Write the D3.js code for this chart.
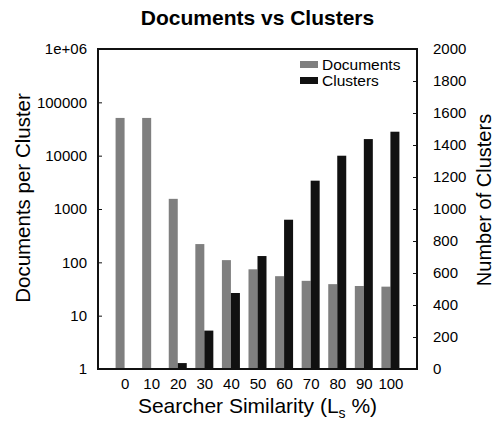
<!DOCTYPE html>
<meta charset="utf-8">
<style>
    body { margin: 0; background: #fff; }
    svg { display: block; background: #fff; font-family: "Liberation Sans", Arial, sans-serif; }
    .axis path, .axis line { stroke: #111; }
</style>
<body>
<svg width="496" height="422"></svg>
<script src="https://d3js.org/d3.v7.min.js"></script>
<script>
    // values
    var similarity = [0, 10, 20, 30, 40, 50, 60, 70, 80, 90, 100];
    var documents = [51000, 51000, 1550, 220, 110, 74, 55, 45, 39, 36, 35];
    var clusters = [0, 0, 37, 240, 475, 706, 933, 1177, 1333, 1437, 1483];
    var leftTicks = [1, 10, 100, 1000, 10000, 100000, 1000000];
    var rightTicks = [0, 200, 400, 600, 800, 1000, 1200, 1400, 1600, 1800, 2000];

    var svg = d3.select("svg");
    var margin = { top: 49, right: 79, bottom: 53, left: 98 },
        width = 496 - margin.left - margin.right,
        height = 422 - margin.top - margin.bottom;

    var x = d3.scaleLinear().domain([-10, 110]).range([0, width]),
        yL = d3.scaleLog().domain([1, 1e6]).range([height, 0]),
        yR = d3.scaleLinear().domain([0, 2000]).range([height, 0]);
    var barW = 9;

    var g = svg.append("g")
        .attr("transform", "translate(" + margin.left + "," + margin.top + ")");

    // documents bars (left, log axis)
    g.selectAll(".doc")
        .data(similarity)
        .enter().append("rect")
        .attr("class", "doc")
        .attr("x", function (d) { return x(d) - barW; })
        .attr("width", barW)
        .attr("y", function (d, i) { return yL(documents[i]); })
        .attr("height", function (d, i) { return height - yL(documents[i]); })
        .style("fill", "#7f7f7f");

    // clusters bars (right axis)
    g.selectAll(".clu")
        .data(similarity)
        .enter().append("rect")
        .attr("class", "clu")
        .attr("x", function (d) { return x(d); })
        .attr("width", barW)
        .attr("y", function (d, i) { return yR(clusters[i]); })
        .attr("height", function (d, i) { return height - yR(clusters[i]); })
        .style("fill", "#111");

    var fmtL = function (d) { return d === 1e6 ? "1e+06" : d3.format("d")(d); };

    var yAxisL = d3.axisLeft(yL).tickValues(leftTicks).tickFormat(fmtL).tickSizeInner(-4).tickSizeOuter(0).tickPadding(11);
    var gl = g.append("g").attr("class", "axis").call(yAxisL);
    gl.selectAll("text").style("font-size", "15px").style("fill", "#000");

    var yAxisR = d3.axisRight(yR).tickValues(rightTicks).tickFormat(d3.format("d")).tickSizeInner(-4).tickSizeOuter(0).tickPadding(16);
    var gr = g.append("g").attr("class", "axis")
        .attr("transform", "translate(" + width + ",0)")
        .call(yAxisR);
    gr.selectAll("text").style("font-size", "15px").style("fill", "#000").style("text-anchor", "start");

    var xAxis = d3.axisBottom(x).tickValues(similarity).tickSize(0).tickPadding(9);
    var gx = g.append("g").attr("class", "axis")
        .attr("transform", "translate(0," + height + ")")
        .call(xAxis);
    gx.selectAll("text").style("font-size", "15px").style("fill", "#000");

    // frame
    g.append("rect")
        .attr("width", width)
        .attr("height", height)
        .style("fill", "none")
        .style("stroke", "#111")
        .style("stroke-width", 2);

    // title
    svg.append("text")
        .attr("x", margin.left + width / 2)
        .attr("y", 25)
        .style("text-anchor", "middle")
        .style("font-weight", "bold")
        .style("font-size", "21px")
        .text("Documents vs Clusters");

    // axis titles
    svg.append("text")
        .attr("transform", "translate(30,198) rotate(-90)")
        .style("text-anchor", "middle")
        .style("font-size", "20.5px")
        .text("Documents per Cluster");

    svg.append("text")
        .attr("transform", "translate(491,200) rotate(-90)")
        .style("text-anchor", "middle")
        .style("font-size", "20px")
        .text("Number of Clusters");

    var xl = svg.append("text")
        .attr("x", margin.left + width / 2)
        .attr("y", 413)
        .style("text-anchor", "middle")
        .style("font-size", "21px");
    xl.append("tspan").text("Searcher Similarity (L");
    xl.append("tspan").attr("dy", 5).style("font-size", "14px").text("s");
    xl.append("tspan").attr("dy", -5).text(" %)");

    // legend
    var legend = [["Documents", "#7f7f7f"], ["Clusters", "#111"]];
    var lg = svg.append("g").attr("transform", "translate(300,61)");
    lg.selectAll("rect")
        .data(legend)
        .enter().append("rect")
        .attr("x", 0)
        .attr("y", function (d, i) { return i * 16; })
        .attr("width", 18)
        .attr("height", 7)
        .style("fill", function (d) { return d[1]; });
    lg.selectAll("text")
        .data(legend)
        .enter().append("text")
        .attr("x", 22)
        .attr("y", function (d, i) { return i * 16 + 9; })
        .style("font-size", "15.5px")
        .text(function (d) { return d[0]; });
</script>
</body>
